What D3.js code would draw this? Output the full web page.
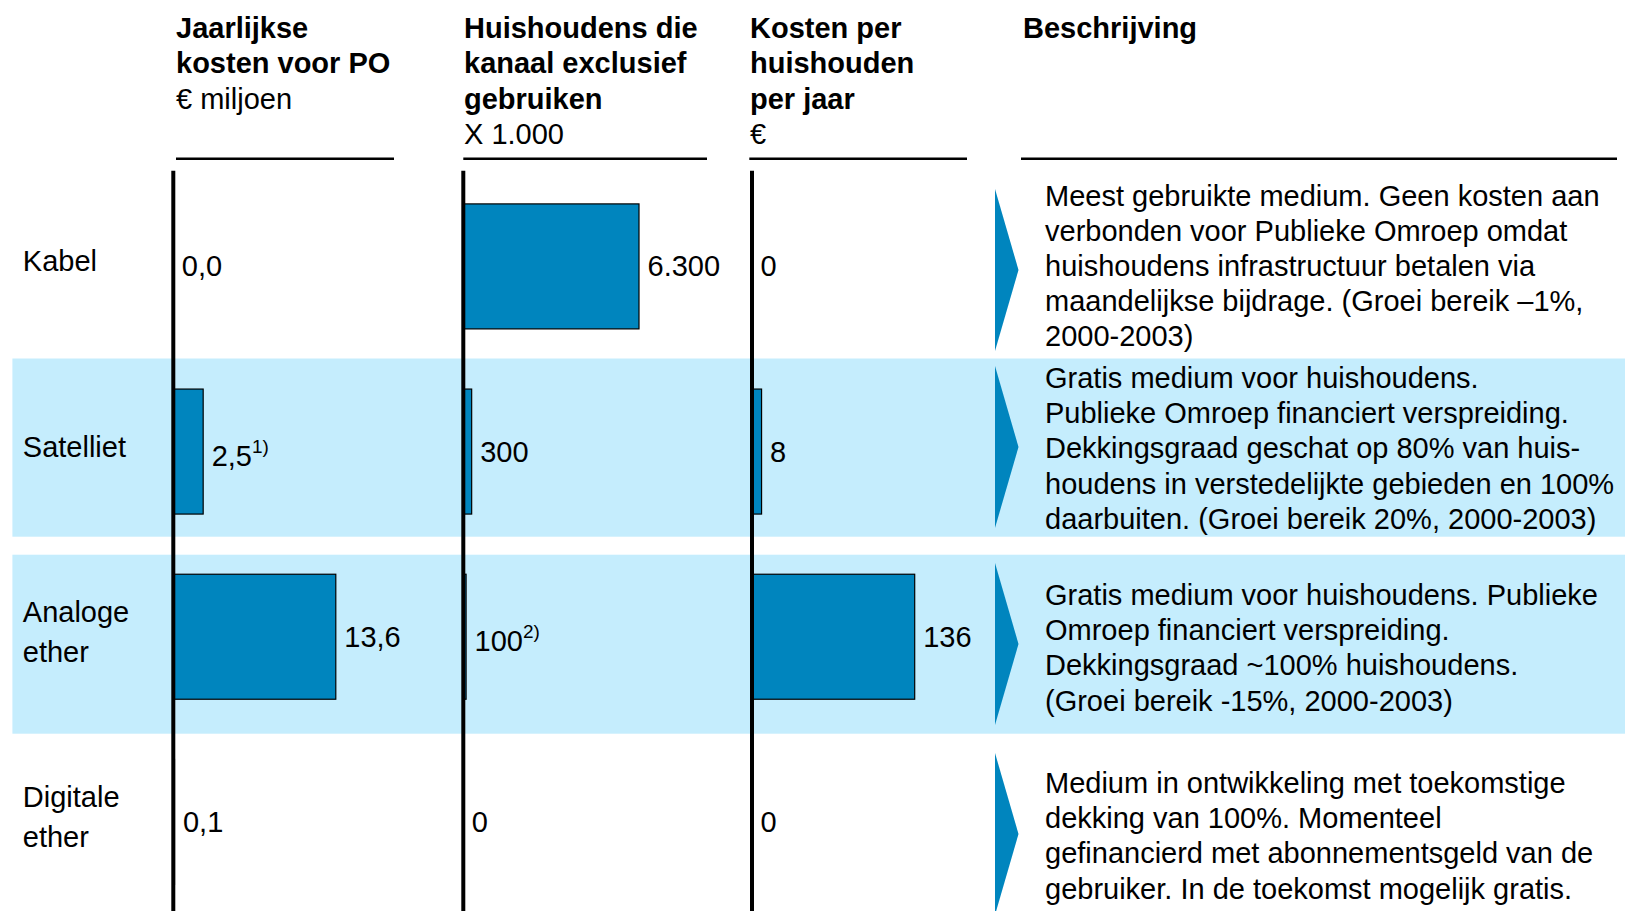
<!DOCTYPE html>
<html>
<head>
<meta charset="utf-8">
<script src="https://cdn.jsdelivr.net/npm/d3@7"></script>
<style>
  body { margin: 0; background: #fff; }
  svg { display: block; }
  text { font-family: "Liberation Sans", Arial, sans-serif; fill: #000; }
</style>
</head>
<body>
<svg id="chart" width="1625" height="911"></svg>
<script>
// ---- data ----
const categories = ["Kabel", "Satelliet", "Analoge ether", "Digitale ether"];
const categoryLines = [["Kabel"], ["Satelliet"], ["Analoge", "ether"], ["Digitale", "ether"]];

const kostenPO = [0.0, 2.5, 13.6, 0.1];          // € miljoen
const kostenPONotes = ["", "1)", "", ""];
const huishoudensExcl = [6300, 300, 100, 0];     // x 1.000
const huishoudensNotes = ["", "", "2)", ""];
const kostenPerHuishouden = [0, 8, 136, 0];      // €
const kostenPerHuishoudenNotes = ["", "", "", ""];

const headerTitles = [
  ["Jaarlijkse", "kosten voor PO"],
  ["Huishoudens die", "kanaal exclusief", "gebruiken"],
  ["Kosten per", "huishouden", "per jaar"],
  ["Beschrijving"]
];
const headerUnits = ["€ miljoen", "X 1.000", "€", ""];

const descriptions = [
  ["Meest gebruikte medium. Geen kosten aan",
   "verbonden voor Publieke Omroep omdat",
   "huishoudens infrastructuur betalen via",
   "maandelijkse bijdrage. (Groei bereik –1%,",
   "2000-2003)"],
  ["Gratis medium voor huishoudens.",
   "Publieke Omroep financiert verspreiding.",
   "Dekkingsgraad geschat op 80% van huis-",
   "houdens in verstedelijkte gebieden en 100%",
   "daarbuiten. (Groei bereik 20%, 2000-2003)"],
  ["Gratis medium voor huishoudens. Publieke",
   "Omroep financiert verspreiding.",
   "Dekkingsgraad ~100% huishoudens.",
   "(Groei bereik -15%, 2000-2003)"],
  ["Medium in ontwikkeling met toekomstige",
   "dekking van 100%. Momenteel",
   "gefinancierd met abonnementsgeld van de",
   "gebruiker. In de toekomst mogelijk gratis."]
];
const shadedRows = ["Satelliet", "Analoge ether"];

// ---- layout ----
const BLUE = "#0085BE";
const BAND = "#C5EDFD";
const FONT = 29;
const svg = d3.select("#chart");

const nl = d3.formatLocale({ decimal: ",", thousands: ".", grouping: [3], currency: ["€", ""] });

const y = d3.scalePoint().domain(categories).range([266.4, 821.9]);
const barH = 125;

// shaded background bands and the description blocks sit on their own grid
const bandY = d3.scaleOrdinal().domain(categories).range([[0, 0], [358.5, 536.7], [554.7, 733.7], [0, 0]]);
const arrowMid = d3.scaleOrdinal().domain(categories).range([270, 447, 644, 834]);
const descFirstBaseline = d3.scaleOrdinal().domain(categories).range([205.5, 388, 605, 793]);

const columns = [
  { axisX: 173.3, textX: 176, rule: [176, 394], values: kostenPO, notes: kostenPONotes,
    scale: d3.scaleLinear().domain([0, 13.6]).range([0, 162.5]), fmt: nl.format(".1f") },
  { axisX: 463.3, textX: 464, rule: [463.3, 707], values: huishoudensExcl, notes: huishoudensNotes,
    scale: d3.scaleLinear().domain([0, 6300]).range([0, 175.7]), fmt: nl.format(",d") },
  { axisX: 752, textX: 750, rule: [749.3, 967], values: kostenPerHuishouden, notes: kostenPerHuishoudenNotes,
    scale: d3.scaleLinear().domain([0, 136]).range([0, 162.7]), fmt: nl.format("d") }
];
const descX = 1045, descHeaderX = 1023, descRule = [1021, 1617];

// background bands
svg.append("g").selectAll("rect")
  .data(shadedRows)
  .join("rect")
  .attr("x", 12.4)
  .attr("width", 1625 - 12.4)
  .attr("y", d => bandY(d)[0])
  .attr("height", d => bandY(d)[1] - bandY(d)[0])
  .attr("fill", BAND);

// column headers
const headerX = [columns[0].textX, columns[1].textX, columns[2].textX, descHeaderX];
const ruleX = [columns[0].rule, columns[1].rule, columns[2].rule, descRule];
const lineH = 35.6;
headerTitles.forEach((lines, i) => {
  const g = svg.append("g");
  lines.forEach((t, j) => {
    g.append("text").attr("x", headerX[i]).attr("y", 37.5 + j * lineH)
      .attr("font-size", FONT).attr("font-weight", "bold").text(t);
  });
  if (headerUnits[i]) {
    g.append("text").attr("x", headerX[i]).attr("y", 37.5 + lines.length * lineH)
      .attr("font-size", FONT).text(headerUnits[i]);
  }
  g.append("line")
    .attr("x1", ruleX[i][0]).attr("x2", ruleX[i][1])
    .attr("y1", 158.7).attr("y2", 158.7)
    .attr("stroke", "#000").attr("stroke-width", 2.5);
});

// row labels
const labelG = svg.append("g");
categories.forEach((c, i) => {
  const lines = categoryLines[i];
  lines.forEach((t, j) => {
    labelG.append("text")
      .attr("x", 22.8)
      .attr("y", y(c) + 5 + (j - (lines.length - 1) / 2) * 40)
      .attr("font-size", FONT)
      .text(t);
  });
});

// bars, value labels and axis lines
columns.forEach(col => {
  const g = svg.append("g");
  const rows = categories.map((c, i) => ({ c, v: col.values[i], note: col.notes[i] }));

  g.selectAll("rect")
    .data(rows.filter(d => d.v > 0))
    .join("rect")
    .attr("x", col.axisX)
    .attr("y", d => y(d.c) - barH / 2)
    .attr("width", d => col.scale(d.v))
    .attr("height", barH)
    .attr("fill", BLUE)
    .attr("stroke", "#000")
    .attr("stroke-width", 1.2);

  const lbl = g.selectAll("text.value")
    .data(rows)
    .join("text")
    .attr("class", "value")
    .attr("x", d => col.axisX + col.scale(d.v) + 8.5)
    .attr("y", d => y(d.c) + 10 + (d.note ? 4 : 0))
    .attr("font-size", FONT);
  lbl.append("tspan").text(d => col.fmt(d.v));
  lbl.filter(d => d.note).append("tspan")
    .attr("font-size", 19).attr("dy", -13)
    .text(d => d.note);

  g.append("line")
    .attr("x1", col.axisX).attr("x2", col.axisX)
    .attr("y1", 170.7).attr("y2", 911)
    .attr("stroke", "#000").attr("stroke-width", 4);
});

// description column: arrow markers and text blocks
const descG = svg.append("g");
descG.selectAll("path")
  .data(categories)
  .join("path")
  .attr("d", c => {
    const m = arrowMid(c);
    return `M995,${m - 81}L1018.5,${m}L995,${m + 81}Z`;
  })
  .attr("fill", BLUE);

categories.forEach((c, i) => {
  descriptions[i].forEach((t, j) => {
    descG.append("text")
      .attr("x", descX)
      .attr("y", descFirstBaseline(c) + j * 35.2)
      .attr("font-size", FONT)
      .text(t);
  });
});
</script>
</body>
</html>
